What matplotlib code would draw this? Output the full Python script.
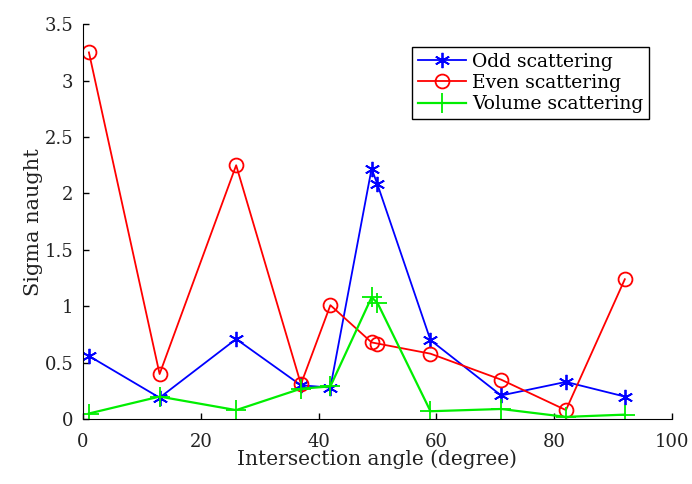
import numpy as np
import matplotlib.pyplot as plt
from matplotlib.ticker import FuncFormatter

plt.rcParams['font.family'] = ['DejaVu Serif']

# -- données -- #
angle = [1, 13, 26, 37, 42, 49, 50, 59, 71, 82, 92]
odd = [0.56, 0.19, 0.71, 0.30, 0.28, 2.22, 2.08, 0.70, 0.21, 0.33, 0.20]
even = [3.25, 0.40, 2.25, 0.31, 1.01, 0.68, 0.67, 0.58, 0.35, 0.08, 1.24]
volume = [0.05, 0.20, 0.08, 0.27, 0.29, 1.08, 1.03, 0.07, 0.09, 0.02, 0.04]

fig = plt.figure(figsize=(6.92, 4.84), dpi=100)
ax = fig.add_axes([0.12, 0.134, 0.851, 0.816])

ax.plot(angle, odd, color='#0000ff', lw=1.3, marker=(6, 2, 0), ms=11, mew=1.3, label='Odd scattering')
ax.plot(angle, even, color='#ff0000', lw=1.3, marker='o', ms=10, mfc='none', mew=1.3, label='Even scattering')
ax.plot(angle, volume, color='#00ee00', lw=1.6, marker='+', ms=14, mew=1.3, label='Volume scattering')

ax.set_xlim(0, 100)
ax.set_ylim(0, 3.5)
ax.set_xticks([0, 20, 40, 60, 80, 100])
ax.set_yticks(np.arange(0, 3.51, 0.5))
ax.yaxis.set_major_formatter(FuncFormatter(lambda v, p: '%g' % v))
ax.spines['top'].set_visible(False)
ax.spines['right'].set_visible(False)
ax.tick_params(direction='in', labelsize=13, length=4, width=1, pad=7, labelcolor='#222222')
ax.tick_params(axis='x', pad=10)
ax.set_xlabel('Intersection angle (degree)', fontsize=14.5, labelpad=-1, color='#222222')
ax.set_ylabel('Sigma naught', fontsize=15, labelpad=1, color='#222222')

leg = ax.legend(loc='upper right', bbox_to_anchor=(0.961, 0.942), borderaxespad=0,
                fontsize=13.5, fancybox=False, edgecolor='black', framealpha=1,
                handlelength=2.6, handletextpad=0.3, borderpad=0.3, labelspacing=0.17)
leg.get_frame().set_linewidth(1)

plt.savefig('out.png', dpi=100)
